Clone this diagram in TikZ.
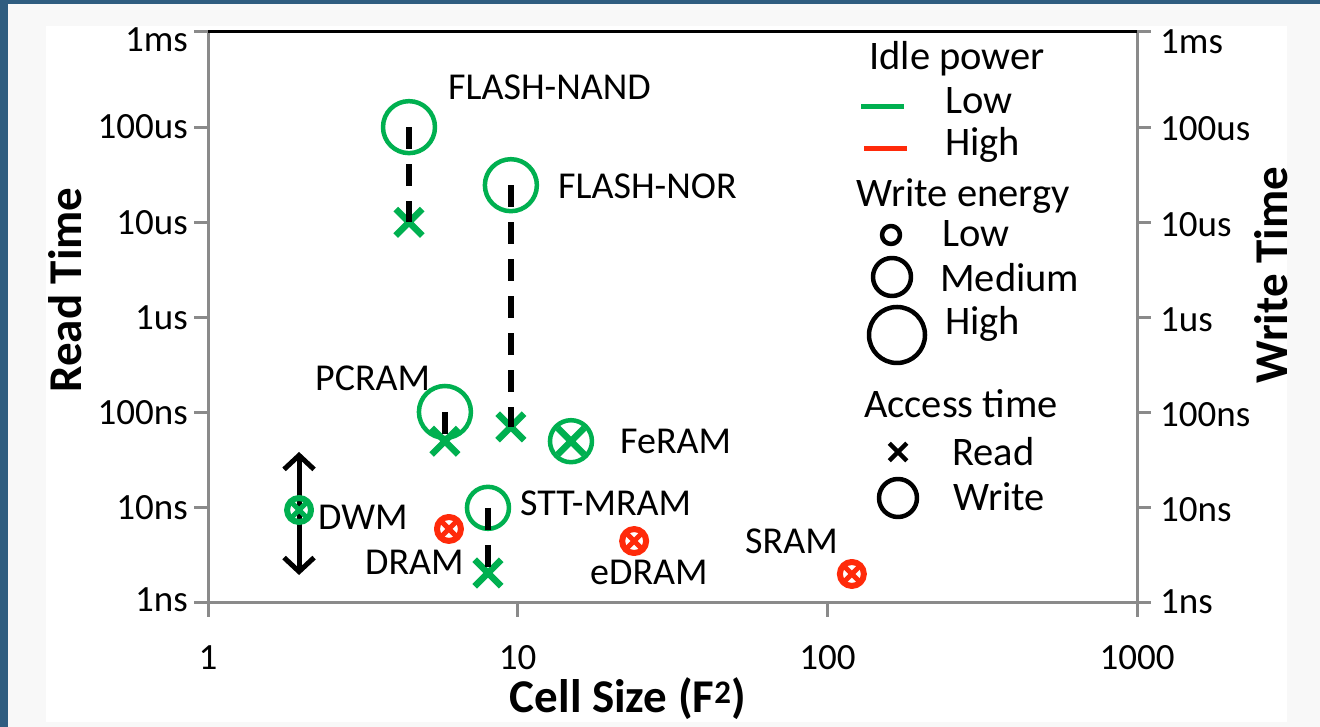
\documentclass[tikz,border=0pt]{standalone}
\usepackage{fontspec}
\setmainfont{Carlito}
\usetikzlibrary{shapes.misc,arrows.meta}
\definecolor{lowgreen}{HTML}{00B050}
\definecolor{highred}{HTML}{FF2A0A}
\definecolor{axisgray}{HTML}{8A8A8A}
\definecolor{slideblue}{RGB}{47,93,128}
\definecolor{panelgray}{HTML}{F8F8F8}
\begin{document}
\begin{tikzpicture}[x=1pt,y=1pt,line join=round,
  wlow/.style={circle,draw,line width=6pt,minimum size=24pt,inner sep=0pt},
  wmed/.style={circle,draw,line width=4.5pt,minimum size=42pt,inner sep=0pt},
  whigh/.style={circle,draw,line width=4.5pt,minimum size=52pt,inner sep=0pt},
  rd/.style={cross out,draw,line width=6.5pt,minimum size=20pt,inner sep=0pt},
  rdsmall/.style={cross out,draw,line width=5pt,minimum size=12pt,inner sep=0pt},
  link/.style={line width=6pt,dash pattern=on 22pt off 15pt},
  ticklbl/.style={inner sep=0pt,font=\fontsize{37}{40}\selectfont},
  lbl/.style={anchor=west,inner sep=0pt,font=\fontsize{38}{40}\selectfont},
  leg/.style={inner sep=0pt,font=\fontsize{40.5}{44}\selectfont},
  title/.style={inner sep=0pt,font=\bfseries\fontsize{47}{50}\selectfont}]
\useasboundingbox (0,0) rectangle (1320,727);
\fill[slideblue] (0,0) rectangle (1320,727);
\fill[panelgray] (8,0) rectangle (1320,723);
\fill[white] (46,5) rectangle (1287,701);
% axes
\draw[axisgray,line width=3pt] (194,124) -- (1137,124);
\draw[axisgray,line width=3pt] (208,695) -- (208,110);
\draw[axisgray,line width=3pt] (1137,695) -- (1137,110);
\draw[black,line width=3pt] (208,695) -- (1137,695);
\foreach \v/\t/\d in {0/1ns/3,1/10ns/0,2/100ns/0,3/1us/0,4/10us/0,5/100us/1,6/1ms/-8} {
  \draw[axisgray,line width=3pt] (194,124+95.17*\v) -- (208,124+95.17*\v);
  \draw[axisgray,line width=3pt] (1137,124+95.17*\v) -- (1151,124+95.17*\v);
  \node[ticklbl,anchor=east] (yl\v) at (188,124+95.17*\v+\d) {\t};
  \node[ticklbl,anchor=west] (yr\v) at (1160,124+95.17*\v+\d-2) {\t};
}
\foreach \v/\t in {0/1,1/10,2/100,3/1000} {
  \draw[axisgray,line width=3pt] (208+309.7*\v,124) -- (208+309.7*\v,110);
  \node[ticklbl] (xl\v) at (208+309.7*\v,69) {\t};
}
\node[title,rotate=90] (readtitle) at (65,437) {Read Time};
\node[title,rotate=90] (writetitle) at (1271,452) {Write Time};
\node[title] (celltitle) at (628,28) {Cell Size (F\textsuperscript{2})};
% data, log scale
\begin{scope}[xshift=208pt,yshift=124pt,x=309.7pt,y=95.17pt]
\coordinate (dwm-top) at (0.294,1.587);
\coordinate (dwm-bot) at (0.294,0.294);
\draw[line width=5pt,{Straight Barb[length=14pt,width=30pt]}-{Straight Barb[length=14pt,width=30pt]}] (dwm-bot) -- (dwm-top);
\node[whigh,lowgreen] (nand-w) at (0.649,5.0) {};
\node[rd,lowgreen] (nand-r) at (0.649,4.0) {};
\node[whigh,lowgreen] (nor-w) at (0.978,4.39) {};
\node[rd,lowgreen] (nor-r) at (0.978,1.85) {};
\node[whigh,lowgreen] (pcram-w) at (0.765,2.007) {};
\node[rd,lowgreen] (pcram-r) at (0.765,1.70) {};
\node[wmed,lowgreen] (feram-w) at (1.172,1.70) {};
\node[rd,lowgreen] (feram-r) at (1.172,1.70) {};
\node[wmed,lowgreen] (stt-w) at (0.904,1.00) {};
\node[rd,lowgreen] (stt-r) at (0.904,0.315) {};
\node[wlow,lowgreen] (dwm-w) at (0.294,0.977) {};
\node[rdsmall,lowgreen] (dwm-r) at (0.294,0.977) {};
\node[wlow,highred] (dram-w) at (0.778,0.778) {};
\node[rdsmall,highred] (dram-r) at (0.778,0.778) {};
\node[wlow,highred] (edram-w) at (1.376,0.651) {};
\node[rdsmall,highred] (edram-r) at (1.376,0.651) {};
\node[wlow,highred] (sram-w) at (2.079,0.305) {};
\node[rdsmall,highred] (sram-r) at (2.079,0.305) {};
\draw[link] (nand-w.center) -- (nand-r.center);
\draw[link] (nor-w.center) -- (nor-r.center);
\draw[link] (pcram-w.center) -- (pcram-r.center);
\draw[link] (stt-w.center) -- (stt-r.center);
\end{scope}
\node[lbl] (nand) at (448,640) {FLASH-NAND};
\node[lbl] (nor) at (558,541) {FLASH-NOR};
\node[lbl] (pcram) at (315,349) {PCRAM};
\node[lbl] (feram) at (620,286) {FeRAM};
\node[lbl] (dwm) at (318,210) {DWM};
\node[lbl] (stt) at (520,224) {STT-MRAM};
\node[lbl] (dram) at (365,165) {DRAM};
\node[lbl] (edram) at (590,155) {eDRAM};
\node[lbl] (sram) at (745,186) {SRAM};
% legend
\node[leg] (idle) at (957,668) {Idle power};
\draw[lowgreen,line width=5pt] (861,620) -- (904,620);
\draw[highred,line width=5pt] (864,578) -- (907,578);
\node[leg,anchor=west] (idle-low) at (945,626) {Low};
\node[leg,anchor=west] (idle-high) at (945,582) {High};
\node[leg] (energy) at (963,531) {Write energy};
\node[circle,draw,line width=4.5pt,minimum size=18pt,inner sep=0pt] (e-low) at (891,492) {};
\node[circle,draw,line width=4.5pt,minimum size=38pt,inner sep=0pt] (e-med) at (892,450) {};
\node[circle,draw,line width=4.5pt,minimum size=56pt,inner sep=0pt] (e-high) at (897,392) {};
\node[leg,anchor=west] (e-low-t) at (942,493) {Low};
\node[leg,anchor=west] (e-med-t) at (940,449) {Medium};
\node[leg,anchor=west] (e-high-t) at (945,403) {High};
\node[leg] (access) at (961,323) {Access time};
\node[cross out,draw,line width=4.5pt,minimum size=13pt,inner sep=0pt] (a-read) at (898,275) {};
\node[circle,draw,line width=4.5pt,minimum size=38pt,inner sep=0pt] (a-write) at (898,229) {};
\node[leg,anchor=west] (a-read-t) at (952,275) {Read};
\node[leg,anchor=west] (a-write-t) at (953,230) {Write};
\end{tikzpicture}
\end{document}
